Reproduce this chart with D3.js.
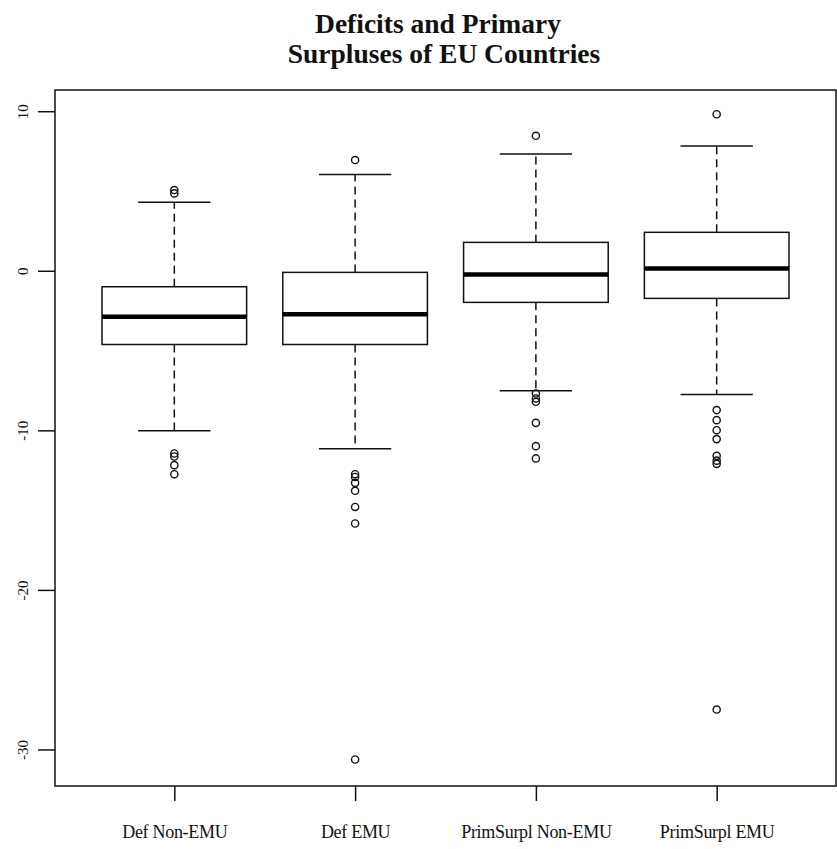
<!DOCTYPE html>
<html>
<head>
<meta charset="utf-8">
<script src="https://cdn.jsdelivr.net/npm/d3@7"></script>
<style>
  body { margin: 0; background: #fff; }
  text { font-family: "Liberation Serif", "DejaVu Serif", serif; fill: #111; }
</style>
</head>
<body>
<div id="chart"></div>
<script>
const categories = ['Def Non-EMU', 'Def EMU', 'PrimSurpl Non-EMU', 'PrimSurpl EMU'];
const lowerWhisker = [-10.03, -11.16, -7.52, -7.75];
const q1 = [-4.62, -4.62, -1.98, -1.73];
const median = [-2.88, -2.73, -0.23, 0.15];
const q3 = [-1.0, -0.1, 1.78, 2.41];
const upperWhisker = [4.29, 6.04, 7.32, 7.82];
const outliers = [
  [5.06, 4.85, -11.45, -11.64, -12.18, -12.75],
  [6.94, -12.75, -12.92, -13.29, -13.79, -14.8, -15.84, -30.63],
  [8.46, -7.69, -8.0, -8.21, -9.53, -10.99, -11.76],
  [9.81, -8.73, -9.36, -9.99, -10.55, -11.6, -11.9, -12.1, -27.5]
];
const yTicks = [-30, -20, -10, 0, 10];

const width = 837;
const height = 849;
const plot = { left: 55, right: 836, top: 90, bottom: 786 };

const svg = d3.select('#chart')
  .append('svg')
  .attr('width', width)
  .attr('height', height);

const x = d3.scaleLinear().domain([0.34, 4.66]).range([plot.left, plot.right]);
const y = d3.scaleLinear().domain([-32.29, 11.33]).range([plot.bottom, plot.top]);

const boxHalf = 0.4; // box width in x units / 2
const capHalf = 0.2;

// title
const title = svg.append('text')
  .attr('text-anchor', 'middle')
  .attr('font-weight', 'bold')
  .attr('font-size', '27.5px')
  .attr('style', 'white-space: pre;');
title.append('tspan').attr('x', 438).attr('y', 33).text('Deficits and Primary');
title.append('tspan').attr('x', 444).attr('y', 63).text('Surpluses of EU Countries');

// axes
const yAxis = svg.append('g')
  .attr('transform', `translate(${plot.left},0)`)
  .call(d3.axisLeft(y).tickValues(yTicks).tickSize(17).tickFormat(d => String(d)));
yAxis.select('.domain').remove();
yAxis.selectAll('line').attr('stroke', '#111').attr('stroke-width', 1.5);
yAxis.selectAll('text')
  .attr('font-size', '15px')
  .attr('font-family', '"Liberation Serif", serif')
  .attr('x', 0)
  .attr('y', 0)
  .attr('dy', '0.35em')
  .attr('transform', 'translate(-32,0) rotate(-90)')
  .attr('text-anchor', 'middle');

const xAxis = svg.append('g')
  .attr('transform', `translate(0,${plot.bottom})`)
  .call(d3.axisBottom(x).tickValues([1, 2, 3, 4]).tickSize(15).tickFormat(d => categories[d - 1]));
xAxis.select('.domain').remove();
xAxis.selectAll('line').attr('stroke', '#111').attr('stroke-width', 1.5);
xAxis.selectAll('text')
  .attr('font-size', '18px')
  .attr('letter-spacing', '-0.3px')
  .attr('font-family', '"Liberation Serif", serif')
  .attr('y', 46)
  .attr('dy', '0.35em');

// frame
svg.append('rect')
  .attr('x', plot.left)
  .attr('y', plot.top)
  .attr('width', plot.right - plot.left)
  .attr('height', plot.bottom - plot.top)
  .attr('fill', 'none')
  .attr('stroke', '#111')
  .attr('stroke-width', 1.5);

// boxes
const boxes = svg.append('g')
  .selectAll('g')
  .data(categories)
  .enter()
  .append('g');

// whiskers (dashed)
boxes.append('line')
  .attr('x1', (d, i) => x(i + 1)).attr('x2', (d, i) => x(i + 1))
  .attr('y1', (d, i) => y(q3[i])).attr('y2', (d, i) => y(upperWhisker[i]))
  .attr('stroke', '#111').attr('stroke-width', 1.5).attr('stroke-dasharray', '8,5');
boxes.append('line')
  .attr('x1', (d, i) => x(i + 1)).attr('x2', (d, i) => x(i + 1))
  .attr('y1', (d, i) => y(q1[i])).attr('y2', (d, i) => y(lowerWhisker[i]))
  .attr('stroke', '#111').attr('stroke-width', 1.5).attr('stroke-dasharray', '8,5');

// caps
boxes.append('line')
  .attr('x1', (d, i) => x(i + 1 - capHalf)).attr('x2', (d, i) => x(i + 1 + capHalf))
  .attr('y1', (d, i) => y(upperWhisker[i])).attr('y2', (d, i) => y(upperWhisker[i]))
  .attr('stroke', '#111').attr('stroke-width', 1.5);
boxes.append('line')
  .attr('x1', (d, i) => x(i + 1 - capHalf)).attr('x2', (d, i) => x(i + 1 + capHalf))
  .attr('y1', (d, i) => y(lowerWhisker[i])).attr('y2', (d, i) => y(lowerWhisker[i]))
  .attr('stroke', '#111').attr('stroke-width', 1.5);

// box
boxes.append('rect')
  .attr('x', (d, i) => x(i + 1 - boxHalf))
  .attr('width', (d, i) => x(i + 1 + boxHalf) - x(i + 1 - boxHalf))
  .attr('y', (d, i) => y(q3[i]))
  .attr('height', (d, i) => y(q1[i]) - y(q3[i]))
  .attr('fill', '#fff')
  .attr('stroke', '#111')
  .attr('stroke-width', 1.5);

// median
boxes.append('line')
  .attr('x1', (d, i) => x(i + 1 - boxHalf)).attr('x2', (d, i) => x(i + 1 + boxHalf))
  .attr('y1', (d, i) => y(median[i])).attr('y2', (d, i) => y(median[i]))
  .attr('stroke', '#000').attr('stroke-width', 4.5);

// outliers
boxes.selectAll('circle')
  .data((d, i) => outliers[i].map(v => ({ v, i })))
  .enter()
  .append('circle')
  .attr('cx', d => x(d.i + 1))
  .attr('cy', d => y(d.v))
  .attr('r', 3.6)
  .attr('fill', 'none')
  .attr('stroke', '#111')
  .attr('stroke-width', 1.4);
</script>
</body>
</html>
